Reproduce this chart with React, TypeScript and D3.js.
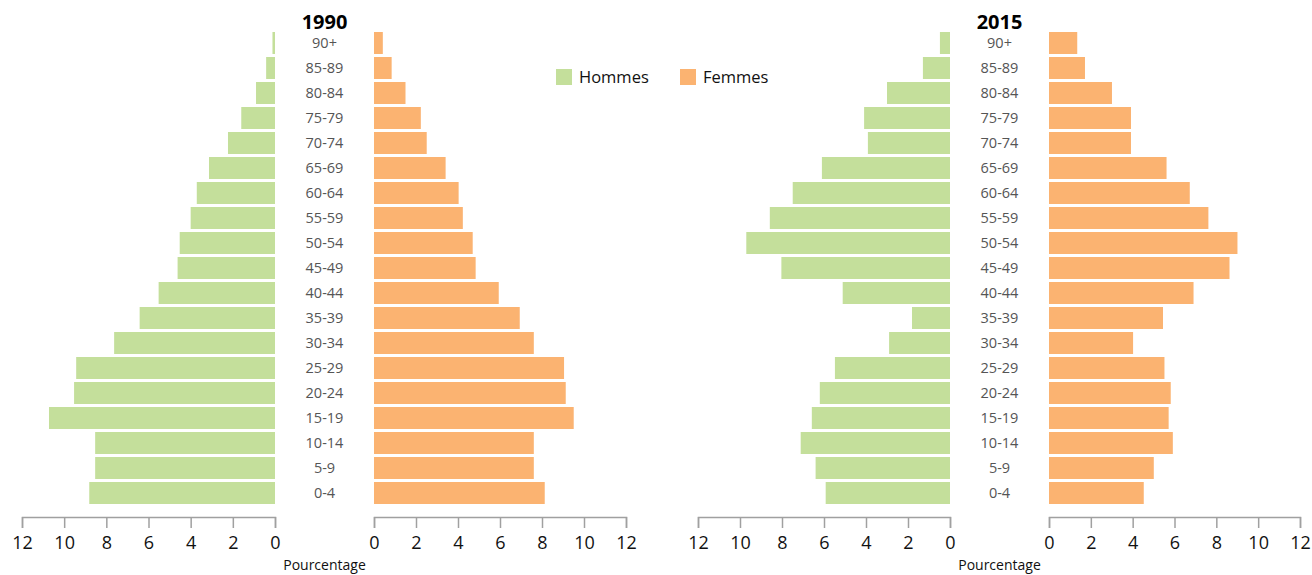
import React, { useRef, useEffect } from 'react'
import * as d3 from 'd3'

const ages = ['90+', '85-89', '80-84', '75-79', '70-74', '65-69', '60-64', '55-59', '50-54', '45-49',
  '40-44', '35-39', '30-34', '25-29', '20-24', '15-19', '10-14', '5-9', '0-4']

const men1990 = [0.12, 0.42, 0.9, 1.6, 2.23, 3.13, 3.71, 4.0, 4.52, 4.62, 5.52, 6.42, 7.63, 9.43, 9.53, 10.72, 8.53, 8.53, 8.81]
const women1990 = [0.42, 0.84, 1.5, 2.23, 2.51, 3.41, 4.03, 4.23, 4.7, 4.84, 5.94, 6.94, 7.61, 9.05, 9.13, 9.51, 7.61, 7.61, 8.13]
const men2015 = [0.48, 1.29, 3.0, 4.09, 3.91, 6.1, 7.49, 8.58, 9.7, 8.03, 5.11, 1.81, 2.9, 5.48, 6.2, 6.58, 7.11, 6.4, 5.92]
const women2015 = [1.35, 1.72, 3.01, 3.92, 3.92, 5.62, 6.73, 7.62, 9.01, 8.63, 6.91, 5.45, 4.02, 5.52, 5.82, 5.72, 5.92, 5.01, 4.53]

const ticks = [0, 2, 4, 6, 8, 10, 12]
const legendItems = ['Hommes', 'Femmes']

const GREEN = '#c4df9b'
const ORANGE = '#fbb371'
const FONT = "'Open Sans', sans-serif"

interface AxisProps {
  scale: d3.ScaleLinear<number, number, never>
  y: number
}

const AxisBottom = ({ scale, y }: AxisProps) => {
  const ref = useRef<SVGGElement>(null)
  useEffect(() => {
    if (ref.current) {
      const g = d3.select(ref.current)
      g.call(d3.axisBottom(scale).tickValues(ticks).tickSize(11).tickPadding(8).tickFormat(d3.format('d')))
      g.selectAll('path, line').attr('stroke', '#a0a0a0').attr('stroke-width', 1.5)
      g.selectAll('text').attr('font-size', 18).attr('font-family', FONT).attr('fill', '#111')
    }
  }, [scale, y])
  return <g ref={ref} transform={`translate(0,${y})`} />
}

interface PyramidProps {
  title: string
  men: number[]
  women: number[]
  menZero: number
  menMax: number
  womenZero: number
  womenMax: number
}

const yScale = d3.scaleBand<string>().domain(ages).range([30.5, 505.5]).paddingInner(0.12).paddingOuter(0.06)

const Pyramid = ({ title, men, women, menZero, menMax, womenZero, womenMax }: PyramidProps) => {
  const xMen = d3.scaleLinear().domain([0, 12]).range([menZero, menMax])
  const xWomen = d3.scaleLinear().domain([0, 12]).range([womenZero, womenMax])
  const mid = (menZero + womenZero) / 2
  const bh = yScale.bandwidth()
  return (
    <g>
      <text x={mid} y={29} textAnchor="middle" fontWeight="bold" fontSize={20} fontFamily={FONT} fill="#000">{title}</text>
      {ages.map((a, i) => (
        <g key={a}>
          <rect x={xMen(men[i])} y={yScale(a)} width={xMen(0) - xMen(men[i])} height={bh} fill={GREEN} />
          <rect x={xWomen(0)} y={yScale(a)} width={xWomen(women[i]) - xWomen(0)} height={bh} fill={ORANGE} />
          <text x={mid} y={(yScale(a) as number) + bh / 2} dy="0.35em" textAnchor="middle" fontSize={14.5} fontFamily={FONT} fill="#555">{a}</text>
        </g>
      ))}
      <AxisBottom scale={xMen} y={517} />
      <AxisBottom scale={xWomen} y={517} />
      <text x={mid} y={570} textAnchor="middle" fontSize={14} fontFamily={FONT} fill="#111">Pourcentage</text>
    </g>
  )
}

export default function App() {
  return (
    <div style={{ position: 'absolute', left: 0, top: 0 }}>
      <svg width={1312} height={575} style={{ display: 'block', background: '#fff' }}>
        <Pyramid title="1990" men={men1990} women={women1990} menZero={275} menMax={22} womenZero={374} womenMax={626} />
        <Pyramid title="2015" men={men2015} women={women2015} menZero={950} menMax={698} womenZero={1049} womenMax={1300} />
        {legendItems.map((l, i) => (
          <g key={l} transform={`translate(${i === 0 ? 556 : 680},69)`}>
            <rect width={16} height={16} fill={i === 0 ? GREEN : ORANGE} />
            <text x={23} y={8} dy="0.35em" fontSize={16.5} fontFamily={FONT} fill="#111">{l}</text>
          </g>
        ))}
      </svg>
    </div>
  )
}
